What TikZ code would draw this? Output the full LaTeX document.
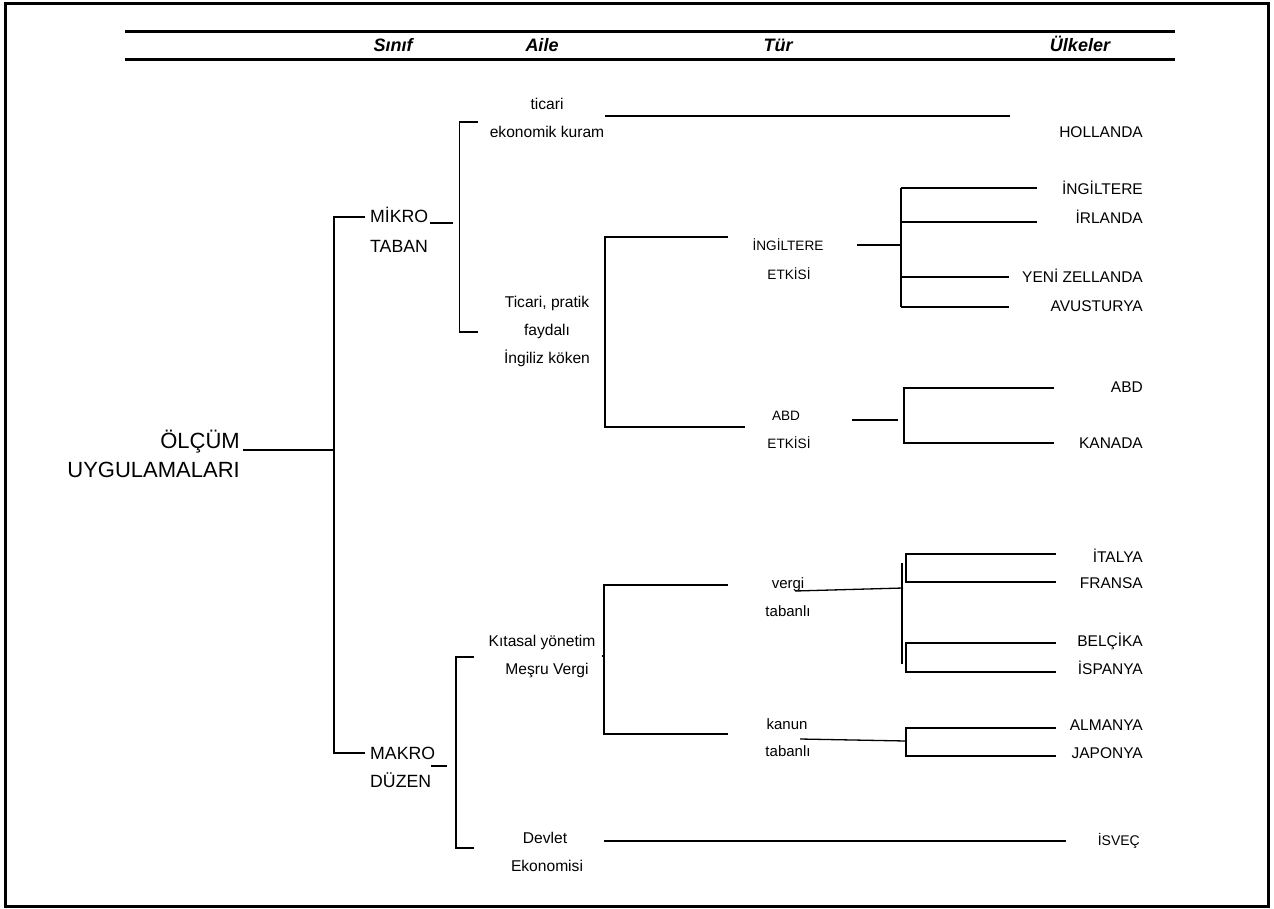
\documentclass[tikz,border=0pt]{standalone}
\usepackage{fontspec}
\setmainfont{Liberation Sans}
\begin{document}
\begin{tikzpicture}[x=1pt,y=-1pt,
  ln/.style={line width=1.3pt},
  heavy/.style={line width=3pt},
  txt/.style={inner sep=0pt, anchor=base},
  root/.style={txt, anchor=base east, font=\fontsize{22}{26}\selectfont},
  cls/.style={txt, anchor=base west, font=\fontsize{17.7}{21}\selectfont},
  fam/.style={txt, font=\fontsize{15.6}{19}\selectfont},
  typs/.style={txt, font=\fontsize{13.6}{16}\selectfont},
  typ/.style={txt, font=\fontsize{15}{18}\selectfont},
  cty/.style={txt, anchor=base east, font=\fontsize{15.5}{18}\selectfont},
  ctys/.style={txt, anchor=base east, font=\fontsize{14}{17}\selectfont},
  hdr/.style={txt, font=\fontsize{18}{21}\selectfont\bfseries\itshape}]

\useasboundingbox (0,0) rectangle (1274,908);
\draw[heavy] (5.7,3.3) rectangle (1268.3,906);

% header
\coordinate (h1a) at (125,31.3); \coordinate (h1b) at (1175,31.3);
\coordinate (h2a) at (125,59.3); \coordinate (h2b) at (1175,59.3);
\draw[heavy] (h1a) -- (h1b);
\draw[heavy] (h2a) -- (h2b);
\node[hdr] (hsinif) at (393,51) {Sınıf};
\node[hdr] (haile) at (542,51) {Aile};
\node[hdr] (htur) at (778,51) {Tür};
\node[hdr] (hulke) at (1080,51) {Ülkeler};

% root
\node[root] (r1) at (240,448) {ÖLÇÜM};
\node[root] (r2) at (240,477) {UYGULAMALARI};
\coordinate (r1e) at (243,450);
\coordinate (rj) at (334,450);
\draw[ln] (r1e) -- (rj);

% class level
\coordinate (vt) at (334,217);
\coordinate (vb) at (334,753);
\coordinate (vta) at (365,217);
\coordinate (vba) at (365,753);
\draw[ln] (vta) -- (vt) -- (vb) -- (vba);
\node[cls] (mikro) at (370,222) {MİKRO};
\node[cls] (taban) at (370,252) {TABAN};
\node[cls] (makro) at (370,759) {MAKRO};
\node[cls] (duzen) at (370,787) {DÜZEN};
\coordinate (mku1) at (430,223); \coordinate (mku2) at (453,223);
\draw[ln] (mku1) -- (mku2);
\coordinate (mau1) at (431,766); \coordinate (mau2) at (447,766);
\draw[ln] (mau1) -- (mau2);

% micro bracket
\coordinate (mbt) at (459.5,122); \coordinate (mbb) at (459.5,332);
\coordinate (mbta) at (478,122); \coordinate (mbba) at (478,332);
\draw[ln] (mbta) -- (mbt) -- (mbb) -- (mbba);
\node[fam] (ticari) at (547,109) {ticari};
\node[fam] (ekon) at (547,137) {ekonomik kuram};
\node[fam] (tp1) at (547,307) {Ticari, pratik};
\node[fam] (tp2) at (547,335) {faydalı};
\node[fam] (tp3) at (547,363) {İngiliz köken};
\coordinate (hl1) at (605,116); \coordinate (hl2) at (1010,116);
\draw[ln] (hl1) -- (hl2);
\node[cty] (hol) at (1143,137) {HOLLANDA};

% ingiliz koken bracket
\coordinate (ibt) at (605,237); \coordinate (ibb) at (605,427);
\coordinate (ibta) at (728,237); \coordinate (ibba) at (745,427);
\draw[ln] (ibta) -- (ibt) -- (ibb) -- (ibba);
\node[typs] (ing1) at (788,250) {İNGİLTERE};
\node[typs] (ing2) at (789,279) {ETKİSİ};
\node[typs] (abd1) at (786,420) {ABD};
\node[typs] (abd2) at (789,448) {ETKİSİ};

\coordinate (il1) at (857,245); \coordinate (il2) at (901,245);
\draw[ln] (il1) -- (il2);
\coordinate (iv1) at (901,188); \coordinate (iv2) at (901,307);
\draw[ln] (iv1) -- (iv2);
\coordinate (ia1) at (1037,188); \coordinate (ib1) at (901,222); \coordinate (ia2) at (1037,222);
\coordinate (ib3) at (901,277); \coordinate (ia3) at (1009,277);
\coordinate (ia4) at (1009,307);
\draw[ln] (iv1) -- (ia1);
\draw[ln] (ib1) -- (ia2);
\draw[ln] (ib3) -- (ia3);
\draw[ln] (iv2) -- (ia4);
\node[cty] (c1) at (1143,194) {İNGİLTERE};
\node[cty] (c2) at (1143,223) {İRLANDA};
\node[cty] (c3) at (1143,282) {YENİ ZELLANDA};
\node[cty] (c4) at (1143,311) {AVUSTURYA};

\coordinate (al1) at (852,420); \coordinate (al2) at (898,420);
\draw[ln] (al1) -- (al2);
\coordinate (av1) at (904,388); \coordinate (av2) at (904,443);
\coordinate (aa1) at (1054,388); \coordinate (aa2) at (1054,443);
\draw[ln] (aa1) -- (av1) -- (av2) -- (aa2);
\node[cty] (c5) at (1143,392) {ABD};
\node[cty] (c6) at (1143,448) {KANADA};

% makro bracket
\coordinate (kbt) at (456,657); \coordinate (kbb) at (456,848);
\coordinate (kbta) at (474,657); \coordinate (kbba) at (474,848);
\draw[ln] (kbta) -- (kbt) -- (kbb) -- (kbba);
\node[fam] (kit1) at (542,646) {Kıtasal yönetim};
\node[fam] (kit2) at (547,674) {Meşru Vergi};
\node[fam] (dev1) at (545,843) {Devlet};
\node[fam] (dev2) at (547,871) {Ekonomisi};

% kitasal bracket
\coordinate (tbt) at (604,585); \coordinate (tbb) at (604,734);
\coordinate (tbta) at (728,585); \coordinate (tbba) at (728,734);
\draw[ln] (tbta) -- (tbt) -- (tbb) -- (tbba);
\coordinate (tk1) at (601.5,656); \coordinate (tk2) at (604,656);
\draw[ln] (tk1) -- (tk2);
\node[typ] (ver1) at (788,588) {vergi};
\node[typ] (ver2) at (788,616) {tabanlı};
\node[typ] (kan1) at (787,729) {kanun};
\node[typ] (kan2) at (788,756) {tabanlı};

\coordinate (vl1) at (795,591); \coordinate (vl2) at (903,588);
\draw[ln] (vl1) -- (vl2);
\coordinate (vv1) at (902,563); \coordinate (vv2) at (902,664);
\draw[ln] (vv1) -- (vv2);
\coordinate (fa) at (906,554); \coordinate (fb) at (906,582);
\coordinate (fa2) at (1056,554); \coordinate (fb2) at (1056,582);
\draw[ln] (fa2) -- (fa) -- (fb) -- (fb2);
\coordinate (ba) at (906,643); \coordinate (bb) at (906,672);
\coordinate (ba2) at (1056,643); \coordinate (bb2) at (1056,672);
\draw[ln] (ba2) -- (ba) -- (bb) -- (bb2);
\node[cty] (c7) at (1143,562) {İTALYA};
\node[cty] (c8) at (1143,588) {FRANSA};
\node[cty] (c9) at (1143,646) {BELÇİKA};
\node[cty] (c10) at (1143,674) {İSPANYA};

\coordinate (kl1) at (800,739); \coordinate (kl2) at (906,741);
\draw[ln] (kl1) -- (kl2);
\coordinate (ja) at (906,728); \coordinate (jb) at (906,756);
\coordinate (ja2) at (1056,728); \coordinate (jb2) at (1056,756);
\draw[ln] (ja2) -- (ja) -- (jb) -- (jb2);
\node[cty] (c11) at (1143,730) {ALMANYA};
\node[cty] (c12) at (1143,758) {JAPONYA};

\coordinate (dl1) at (604,841); \coordinate (dl2) at (1066,841);
\draw[ln] (dl1) -- (dl2);
\node[ctys] (c13) at (1140,845) {İSVEÇ};
\end{tikzpicture}
\end{document}
